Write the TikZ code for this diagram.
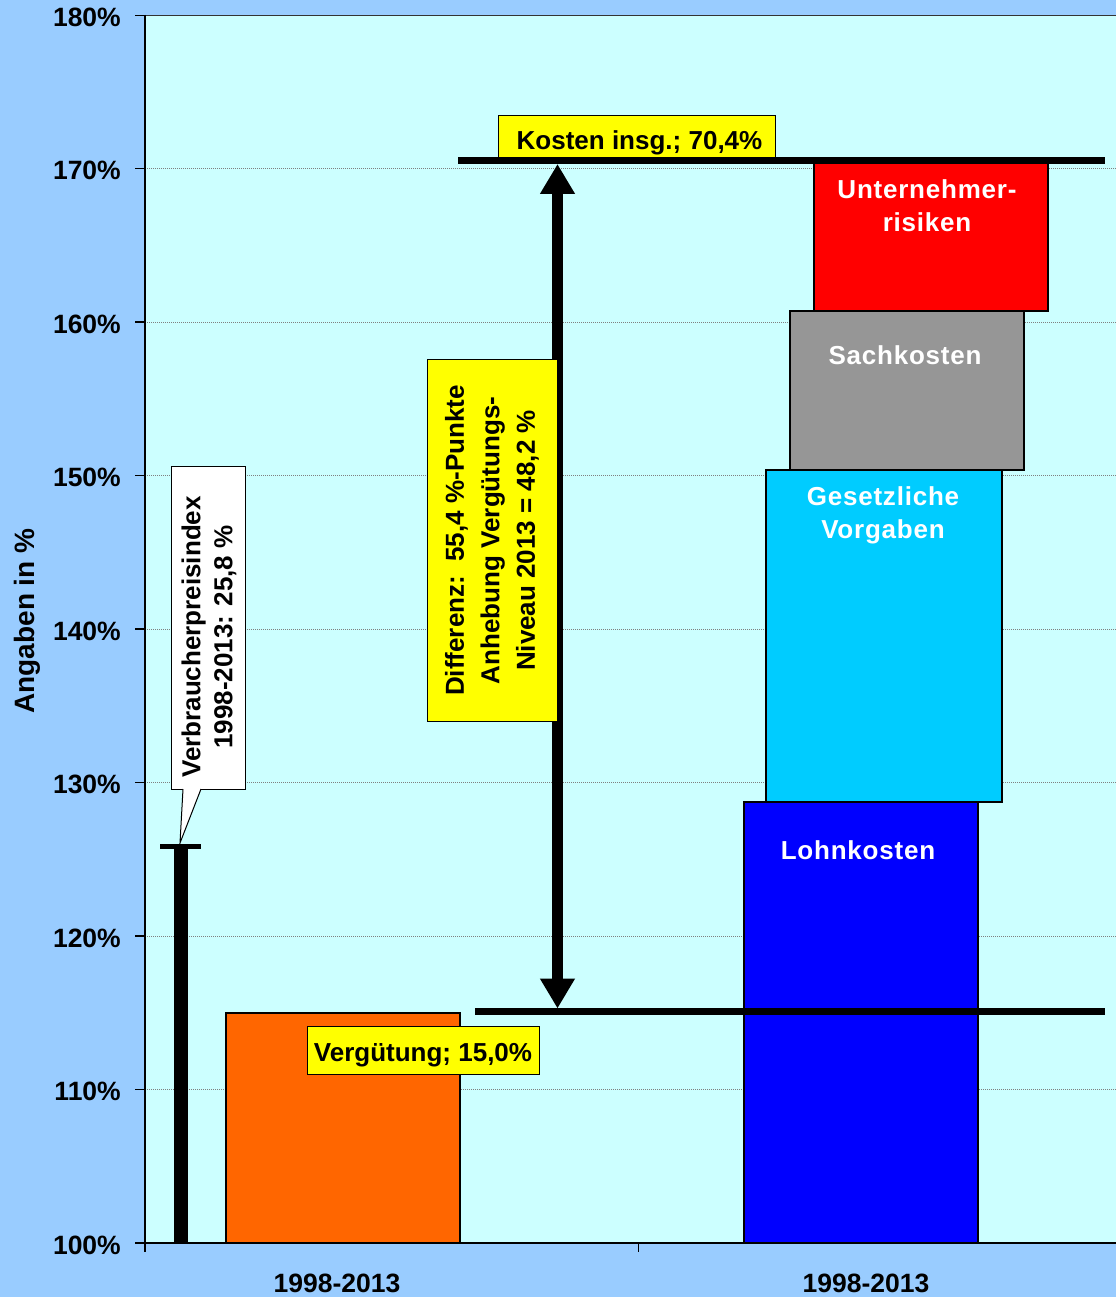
\documentclass[tikz,border=0pt]{standalone}
\usepackage{fontspec}
\setmainfont{Liberation Sans}
\usetikzlibrary{arrows.meta}
\definecolor{bgblue}{HTML}{99CCFF}
\definecolor{plotbg}{HTML}{CCFFFF}
\definecolor{orangebar}{HTML}{FF6600}
\definecolor{bluebar}{HTML}{0000FF}
\definecolor{cyanbar}{HTML}{00CCFF}
\definecolor{graybar}{HTML}{969696}
\definecolor{redbar}{HTML}{FF0000}
\definecolor{labelyellow}{HTML}{FFFF00}
\definecolor{gridgray}{HTML}{808080}
\begin{document}
\begin{tikzpicture}[x=1pt,y=-1pt,
  lbl/.style={font=\fontsize{26.5}{32}\selectfont\bfseries, inner sep=0pt},
  barlbl/.style={font=\fontsize{26}{33}\selectfont\bfseries\addfontfeatures{LetterSpace=3}, text=white, align=center, inner sep=0pt},
  barbox/.style={draw=black, line width=1.5pt},
  yellowbox/.style={draw=black, line width=1pt, fill=labelyellow, inner sep=0pt, font=\fontsize{26}{35.5}\selectfont\bfseries, align=center},
  gridline/.style={gridgray, line width=0.8pt, dash pattern=on 1pt off 1pt},
  axisline/.style={black, line width=2pt},
  thickline/.style={black, line width=6.5pt},
  bigarrow/.style={black, line width=11pt, {Triangle[width=33pt,length=30pt]}-{Triangle[width=33pt,length=30pt]}}
]
\useasboundingbox (0,0) rectangle (1116,1297);
% backgrounds
\fill[bgblue] (0,0) rectangle (1116,1297);
\fill[plotbg] (145,15) rectangle (1116,1243);
% gridlines
\foreach \yy in {168.5,322,475.5,629,782.5,936,1089.5}
  \draw[gridline] (145,\yy) -- (1116,\yy);
\draw[black!80, line width=1.2pt] (145,15.5) -- (1116,15.5);
% bars
\draw[barbox, fill=orangebar] (226,1013) rectangle (460,1243);
\draw[barbox, fill=bluebar] (744,802) rectangle (978,1243);
\draw[barbox, fill=cyanbar] (766,470) rectangle (1002,802);
\draw[barbox, fill=graybar] (790,311) rectangle (1024,470);
\draw[barbox, fill=redbar] (814,162) rectangle (1048,311);
\node[barlbl] (lohn) at (858,850) {Lohnkosten};
\node[barlbl] (gesetz) at (883,515) {Gesetzliche\\Vorgaben};
\node[barlbl] (sach) at (905,355) {Sachkosten};
\node[barlbl] (unter) at (927,206) {Unternehmer-\\risiken};
% CPI bar
\fill[black] (173.5,845) rectangle (187.5,1243);
\fill[black] (160,843.5) rectangle (201,848.5);
% CPI callout
\node[draw=black, line width=1pt, fill=white, minimum width=74pt, minimum height=323pt, inner sep=0pt] (cpi) at (208,627.5) {};
\node[rotate=90, inner sep=0pt, font=\fontsize{26}{32}\selectfont\bfseries, align=center] (cpitext) at (209,637)
  {Verbraucherpreisindex\\1998-2013: 25,8 \%};
\coordinate (cpitip) at (180,843);
\coordinate (cpiL) at (183,789);
\coordinate (cpiR) at (201,789);
\fill[white] (183,788) -- (cpitip) -- (201,788) -- cycle;
\draw[black, line width=1pt] (cpiL) -- (cpitip) -- (cpiR);
% level lines
\coordinate (topL) at (458,160.7);
\coordinate (topR) at (1105,160.7);
\coordinate (botL) at (475,1011.7);
\coordinate (botR) at (1105,1011.7);
% Kosten label box
\node[yellowbox, minimum width=277pt, minimum height=42pt] (kosten) at (636.5,137) {\rule{0pt}{31pt}\hspace*{6pt}Kosten insg.; 70,4\%};
\draw[thickline] (topL) -- (topR);
\draw[thickline] (botL) -- (botR);
% double arrow
\coordinate (arrtop) at (557.5,164);
\coordinate (arrbot) at (557.5,1008.5);
\draw[bigarrow] (arrbot) -- (arrtop);
% Differenz box
\node[yellowbox, rotate=90, minimum width=362pt, minimum height=130pt] (diff) at (492,540.5)
  {Differenz:\ \ 55,4 \%-Punkte\\Anhebung Vergütungs-\\Niveau 2013 = 48,2 \%};
% Verguetung box
\node[yellowbox, minimum width=232pt, minimum height=48pt] (verg) at (423,1050) {\rule{0pt}{29pt}Vergütung; 15,0\%};
% axes
\draw[axisline] (145,15) -- (145,1243);
\draw[axisline] (145,1243) -- (1116,1243);
\foreach \yy/\lab in {15.5/180,168.5/170,322/160,475.5/150,629/140,782.5/130,936/120,1089.5/110,1243/100} {
  \draw[black, line width=1.5pt] (135,\yy) -- (145,\yy);
  \node[lbl, anchor=east] (tick\lab) at (121,\yy+2) {\lab\%};
}
\draw[black, line width=1.5pt] (145,1243) -- (145,1252);
\draw[black, line width=1.5pt] (638.5,1243) -- (638.5,1252);
\node[lbl, anchor=base] (cat1) at (337,1292) {1998-2013};
\node[lbl, anchor=base] (cat2) at (866,1292) {1998-2013};
\node[lbl, rotate=90, font=\fontsize{28}{32}\selectfont\bfseries] (ytitle) at (27,621) {Angaben in \%};
\end{tikzpicture}
\end{document}
